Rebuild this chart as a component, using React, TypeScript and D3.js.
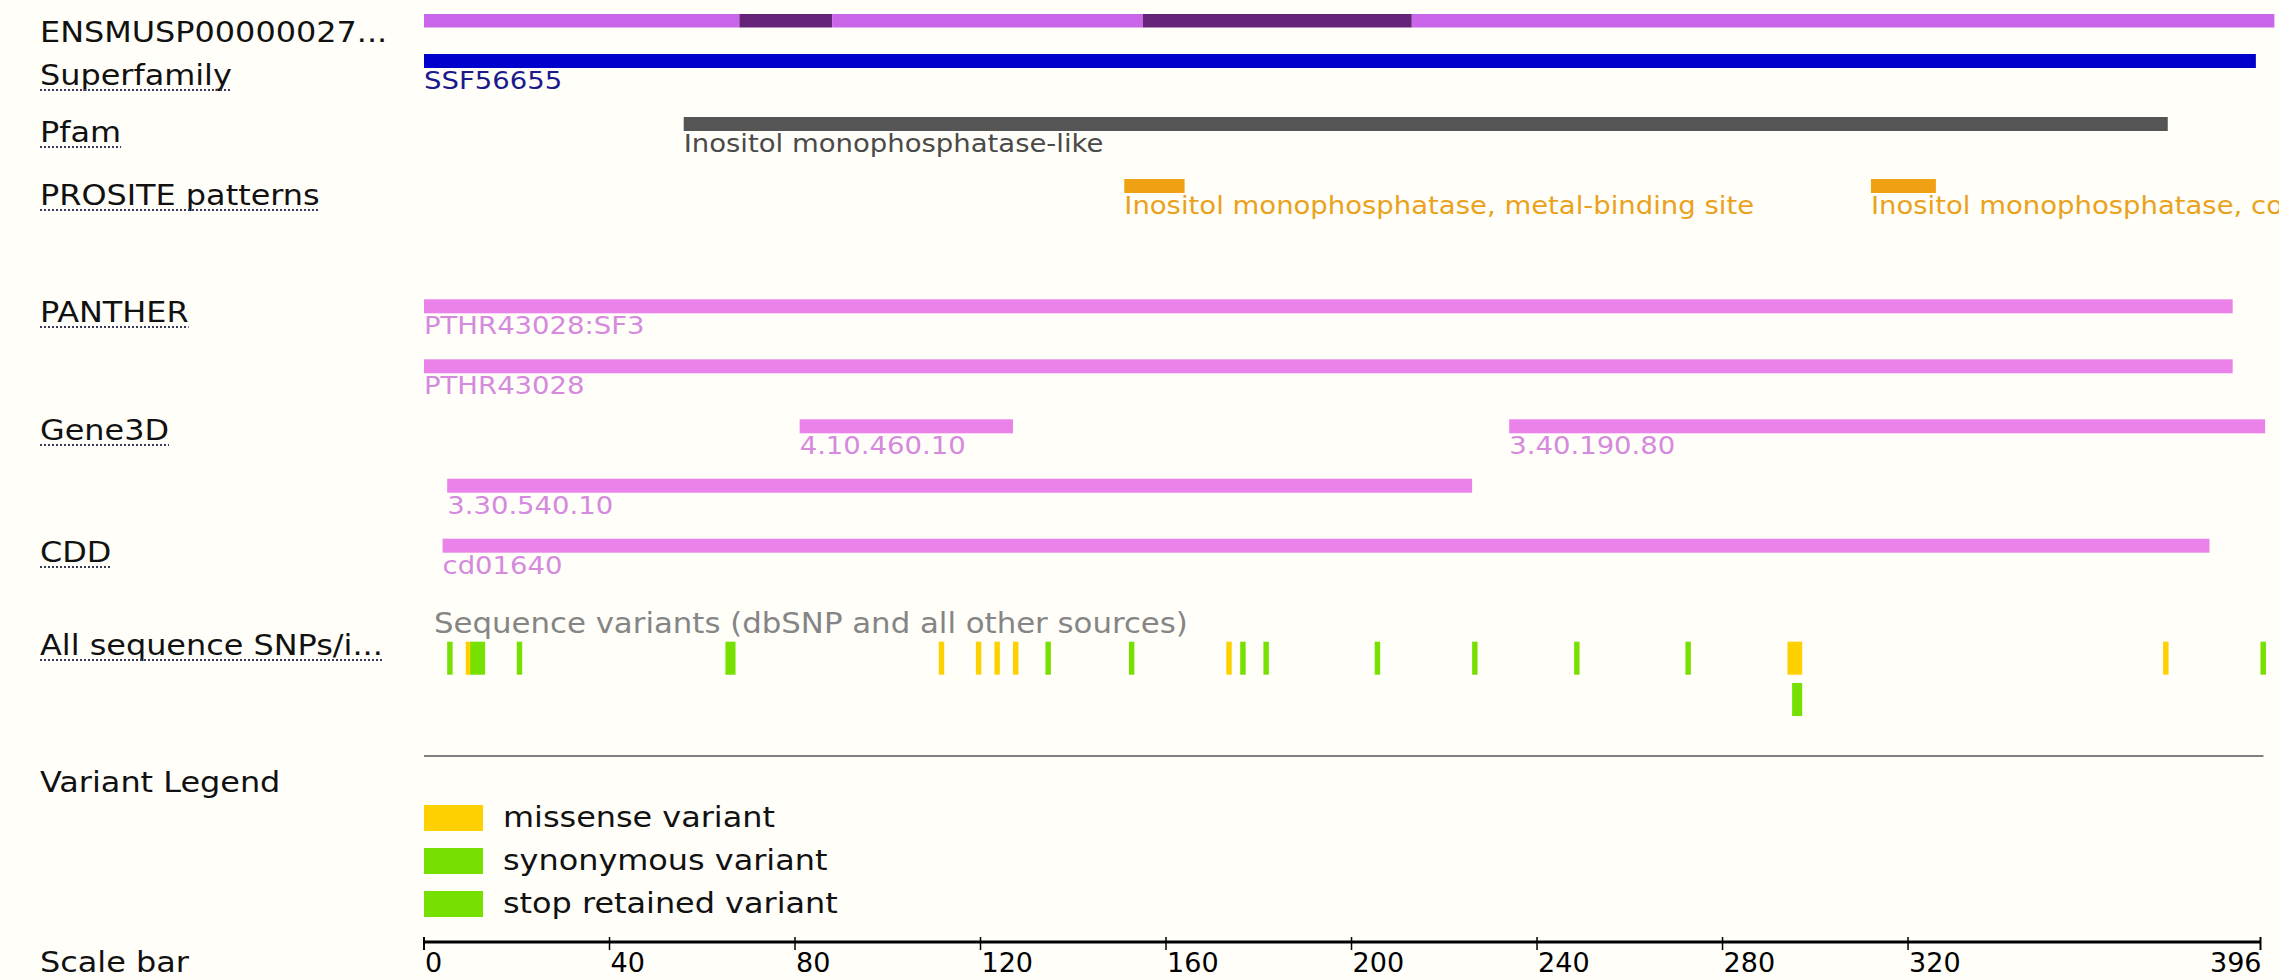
import React, { useRef, useEffect } from 'react'
import * as d3 from 'd3'

const W = 2279
const H = 980
const proteinLength = 396

const trackNames = [
  'ENSMUSP00000027...',
  'Superfamily',
  'Pfam',
  'PROSITE patterns',
  'PANTHER',
  'Gene3D',
  'CDD',
  'All sequence SNPs/i...',
  'Variant Legend',
  'Scale bar',
]
// which track names are links (dotted underline)
const linkedTracks = [false, true, true, true, true, true, true, true, false, false]

// exon boundaries along the protein (alternating shades)
const exonEdges = [0, 68, 88, 155, 213, 399]

const superfamilyHits = [{ label: 'SSF56655', start: 1, end: 395, lane: 0 }]
const pfamHits = [{ label: 'Inositol monophosphatase-like', start: 57, end: 376, lane: 0 }]
const prositeHits = [
  { label: 'Inositol monophosphatase, metal-binding site', start: 152, end: 164, lane: 0 },
  { label: 'Inositol monophosphatase, conserved site', start: 313, end: 326, lane: 0 },
]
const pantherHits = [
  { label: 'PTHR43028:SF3', start: 1, end: 390, lane: 0 },
  { label: 'PTHR43028', start: 1, end: 390, lane: 1 },
]
const gene3dHits = [
  { label: '4.10.460.10', start: 82, end: 127, lane: 0 },
  { label: '3.40.190.80', start: 235, end: 397, lane: 0 },
  { label: '3.30.540.10', start: 6, end: 226, lane: 1 },
]
const cddHits = [{ label: 'cd01640', start: 5, end: 385, lane: 0 }]

const variantTypes = ['missense variant', 'synonymous variant', 'stop retained variant']
// [residue, type index, lane]
const variants: [number, number, number][] = [
  [6, 1, 0], [10, 0, 0], [11, 1, 0], [12, 1, 0], [13, 1, 0], [21, 1, 0],
  [66, 1, 0], [67, 1, 0], [112, 0, 0], [120, 0, 0], [124, 0, 0], [128, 0, 0],
  [135, 1, 0], [153, 1, 0], [174, 0, 0], [177, 1, 0], [182, 1, 0], [206, 1, 0],
  [227, 1, 0], [249, 1, 0], [273, 1, 0], [295, 0, 0], [296, 0, 0], [297, 0, 0],
  [296, 1, 1], [297, 1, 1], [376, 0, 0], [397, 1, 0],
]

const scaleTicks = [0, 40, 80, 120, 160, 200, 240, 280, 320, 396]

const FONT = '"DejaVu Sans", Verdana, sans-serif'
const SX = 1.1

export default function App() {
  const ref = useRef<SVGSVGElement>(null)

  useEffect(() => {
    const svg = d3.select(ref.current)
    svg.selectAll('*').remove()

    svg.append('rect').attr('width', W).attr('height', H).attr('fill', '#fffef9')

    const x = d3.scaleLinear().domain([0, proteinLength]).range([424, 2260.5])
    const g = svg.append('g').attr('font-family', FONT)

    const addText = (str: string, px: number, py: number, size: number, color: string, anchor = 'start', sx = SX) =>
      g
        .append('text')
        .attr('transform', `translate(${px},${py}) scale(${sx},1)`)
        .attr('font-size', size)
        .attr('fill', color)
        .attr('text-anchor', anchor)
        .text(str)

    // track labels
    const labelBaselines = [42, 85, 142, 205, 322, 440, 562, 655, 792, 972]
    trackNames.forEach((name, i) => {
      const t = addText(name, 40, labelBaselines[i], 29, '#111')
      if (linkedTracks[i]) {
        const w = (t.node() as SVGTextElement).getComputedTextLength() * SX
        g.append('line')
          .attr('x1', 40)
          .attr('x2', 40 + w)
          .attr('y1', labelBaselines[i] + 5)
          .attr('y2', labelBaselines[i] + 5)
          .attr('stroke', '#3a3a5c')
          .attr('stroke-width', 2)
          .attr('stroke-dasharray', '2,2')
      }
    })

    // protein exon bar
    d3.pairs(exonEdges).forEach(([a, b], i) => {
      g.append('rect')
        .attr('x', x(a))
        .attr('y', 14)
        .attr('width', x(b) - x(a))
        .attr('height', 13.5)
        .attr('fill', i % 2 === 0 ? '#c966ea' : '#66237a')
    })

    const BAR_H = 14
    const drawHits = (
      hits: { label: string; start: number; end: number; lane: number }[],
      laneTops: number[],
      barColor: string,
      textColor: string
    ) => {
      hits.forEach((h) => {
        const top = laneTops[h.lane]
        g.append('rect')
          .attr('x', x(h.start - 1))
          .attr('y', top)
          .attr('width', x(h.end) - x(h.start - 1))
          .attr('height', BAR_H)
          .attr('fill', barColor)
        addText(h.label, x(h.start - 1), top + 35, 25, textColor)
      })
    }

    drawHits(superfamilyHits, [54], '#0000cc', '#1a1a8c')
    drawHits(pfamHits, [117], '#555555', '#4a4a4a')
    drawHits(prositeHits, [179], '#efa013', '#eaa21c')
    drawHits(pantherHits, [299.3, 359.3], '#ea82ea', '#d58ade')
    drawHits(gene3dHits, [419.3, 478.7], '#ea82ea', '#d58ade')
    drawHits(cddHits, [538.7], '#ea82ea', '#d58ade')

    // variants
    const variantColors = ['#ffd000', '#76e000', '#76e000']
    addText('Sequence variants (dbSNP and all other sources)', 434, 633, 28, '#858585')
    const laneTops = [641.7, 683]
    variants.forEach(([pos, type, lane]) => {
      g.append('rect')
        .attr('x', x(pos - 1))
        .attr('y', laneTops[lane])
        .attr('width', x(pos) - x(pos - 1) + 0.8)
        .attr('height', 33)
        .attr('fill', variantColors[type])
    })

    // separator
    g.append('line')
      .attr('x1', x(0))
      .attr('x2', x(proteinLength) + 3)
      .attr('y1', 756)
      .attr('y2', 756)
      .attr('stroke', '#808080')
      .attr('stroke-width', 2)

    // legend
    variantTypes.forEach((name, i) => {
      const top = 805 + i * 43
      g.append('rect')
        .attr('x', x(0))
        .attr('y', top)
        .attr('width', 59)
        .attr('height', 26)
        .attr('fill', variantColors[i])
      addText(name, 503, top + 22, 29, '#111')
    })

    // scale bar
    g.append('line')
      .attr('x1', x(0))
      .attr('x2', x(proteinLength))
      .attr('y1', 942)
      .attr('y2', 942)
      .attr('stroke', '#000')
      .attr('stroke-width', 3)
    scaleTicks.forEach((t, i) => {
      const last = i === scaleTicks.length - 1
      g.append('line')
        .attr('x1', x(t))
        .attr('x2', x(t))
        .attr('y1', 937)
        .attr('y2', 950)
        .attr('stroke', '#000')
        .attr('stroke-width', last || i === 0 ? 2 : 1.5)
      addText(String(t), x(t) + 1, 972, 27, '#000', last ? 'end' : 'start', 1)
    })
  }, [])

  return (
    <svg
      ref={ref}
      width={W}
      height={H}
      style={{ position: 'absolute', left: 0, top: 0, display: 'block' }}
    ></svg>
  )
}
